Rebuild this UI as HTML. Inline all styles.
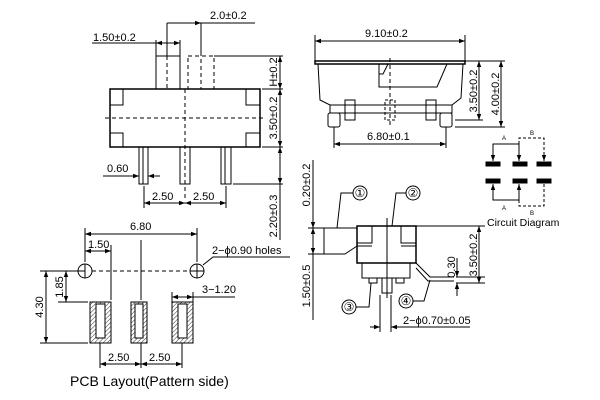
<!DOCTYPE html>
<html><head><meta charset="utf-8"><style>
html,body{margin:0;padding:0;background:#fff;}
svg{display:block;}
text{font-family:"Liberation Sans",sans-serif;fill:#000;}
</style></head><body>
<svg width="600" height="400" viewBox="0 0 600 400" xmlns="http://www.w3.org/2000/svg">
<defs>
<marker id="a" markerWidth="6" markerHeight="6" refX="6" refY="3" orient="auto-start-reverse" markerUnits="userSpaceOnUse"><path d="M0,0.8 L6,3 L0,5.2z" fill="#000"/></marker>
<pattern id="h" width="3" height="3" patternUnits="userSpaceOnUse" patternTransform="rotate(45)"><line x1="0" y1="0" x2="0" y2="3" stroke="#000" stroke-width="0.8"/></pattern>
</defs>
<g stroke="#000" stroke-width="1" fill="none">
<!-- TOP LEFT VIEW -->
<rect x="110" y="89" width="150" height="58" stroke-width="1.5"/>
<path d="M110,89h13v16h-13M110,147h13v-14h-13M260,89h-14v16h14M260,147h-14v-14h14"/>
<rect x="156" y="56" width="24" height="33"/>
<line x1="167" y1="56" x2="167" y2="89" stroke-dasharray="4,3"/>
<rect x="188" y="56" width="26" height="33" stroke-dasharray="4,3"/>
<line x1="201" y1="45" x2="201" y2="89" stroke-dasharray="4,3"/>
<line x1="185" y1="89" x2="185" y2="200" stroke-dasharray="4,3"/>
<line x1="105" y1="118" x2="265" y2="118" stroke-dasharray="4,3"/>
<rect x="139" y="147" width="9" height="37"/><line x1="143" y1="147" x2="143" y2="184"/>
<rect x="180" y="147" width="10" height="37"/>
<rect x="221" y="147" width="10" height="37"/><line x1="225" y1="147" x2="225" y2="184"/>
<line x1="92" y1="43" x2="180" y2="43"/><line x1="156" y1="40" x2="156" y2="56"/><line x1="180" y1="40" x2="180" y2="56"/>
<line x1="156" y1="43" x2="167" y2="43" marker-start="url(#a)"/><line x1="167" y1="43" x2="180" y2="43" marker-end="url(#a)"/>
<line x1="167" y1="23" x2="255" y2="23"/><line x1="167" y1="23" x2="167" y2="56"/><line x1="201" y1="23" x2="201" y2="56"/>
<line x1="180" y1="23" x2="201" y2="23" marker-end="url(#a)"/>
<line x1="214" y1="56" x2="283" y2="56"/><line x1="262" y1="89" x2="283" y2="89"/><line x1="262" y1="147" x2="283" y2="147"/><line x1="233" y1="184" x2="283" y2="184"/>
<line x1="280" y1="56" x2="280" y2="89" marker-start="url(#a)" marker-end="url(#a)"/>
<line x1="280" y1="89" x2="280" y2="147" marker-start="url(#a)" marker-end="url(#a)"/>
<line x1="280" y1="147" x2="280" y2="184" marker-start="url(#a)" marker-end="url(#a)"/>
<line x1="280" y1="184" x2="280" y2="240"/>
<line x1="103" y1="176" x2="139" y2="176" marker-end="url(#a)"/><line x1="160" y1="176" x2="148" y2="176" marker-end="url(#a)"/>
<line x1="144" y1="186" x2="144" y2="208"/><line x1="226" y1="186" x2="226" y2="208"/>
<line x1="144" y1="203" x2="185" y2="203" marker-start="url(#a)" marker-end="url(#a)"/>
<line x1="185" y1="203" x2="226" y2="203" marker-start="url(#a)" marker-end="url(#a)"/>

<!-- TOP RIGHT VIEW -->
<line x1="315" y1="41" x2="465" y2="41" marker-start="url(#a)" marker-end="url(#a)"/>
<line x1="315" y1="35" x2="315" y2="61"/><line x1="465" y1="35" x2="465" y2="61"/>
<rect x="315" y="61" width="150" height="3" stroke-width="1.5"/>
<path d="M318,64 L320,100 L330,105 L452,105 L461,98 L463,64"/>
<path d="M379,64 v23 h58 l10,-23"/>
<path d="M388,64 l-5,10 h-4"/>
<line x1="390" y1="58" x2="390" y2="125" stroke-dasharray="4,3"/>
<rect x="330" y="105" width="122" height="8"/>
<rect x="345" y="100" width="10" height="20"/><rect x="385" y="100" width="10" height="20" stroke-dasharray="3,2"/><rect x="426" y="100" width="10" height="20"/>
<rect x="328" y="113" width="12" height="14" rx="2"/><rect x="440" y="113" width="12" height="14" rx="2"/>
<line x1="334" y1="127" x2="334" y2="148"/><line x1="446" y1="127" x2="446" y2="148"/>
<line x1="334" y1="144" x2="446" y2="144" marker-start="url(#a)" marker-end="url(#a)"/>
<line x1="465" y1="61" x2="505" y2="61"/><line x1="455" y1="120" x2="483" y2="120"/><line x1="455" y1="127" x2="505" y2="127"/>
<line x1="479" y1="61" x2="479" y2="120" marker-start="url(#a)" marker-end="url(#a)"/>
<line x1="501" y1="61" x2="501" y2="127" marker-start="url(#a)" marker-end="url(#a)"/>

<!-- CIRCUIT -->
<g fill="#000">
<rect x="486" y="162" width="14" height="4"/><rect x="513" y="162" width="14" height="4"/><rect x="537" y="162" width="14" height="4"/>
<rect x="486" y="179" width="14" height="4"/><rect x="513" y="179" width="14" height="4"/><rect x="537" y="179" width="14" height="4"/>
</g>
<path d="M493,160 V144 H519 V160"/>
<path d="M519,144 V138 H544 V160" stroke-dasharray="3,2"/>
<line x1="493" y1="152" x2="493" y2="161" marker-end="url(#a)"/><line x1="519" y1="152" x2="519" y2="161" marker-end="url(#a)"/><line x1="544" y1="152" x2="544" y2="161" marker-end="url(#a)"/>
<path d="M493,184 V200 H519 V184"/>
<path d="M519,200 V206 H544 V184" stroke-dasharray="3,2"/>
<line x1="493" y1="193" x2="493" y2="184" marker-end="url(#a)"/><line x1="519" y1="193" x2="519" y2="184" marker-end="url(#a)"/>

<!-- SIDE VIEW -->
<rect x="357" y="226" width="59" height="37" stroke-width="1.5"/>
<path d="M357,243 h15 v-17 M416,243 h-15 v-17"/>
<path d="M357,246 h15 M416,246 h-15"/>
<path d="M357,228 H324 V254 H345 L357,246"/>
<rect x="362" y="263" width="48" height="15"/>
<rect x="369" y="278" width="8" height="5"/><rect x="396" y="278" width="8" height="5"/>
<rect x="382" y="278" width="10" height="15"/>
<line x1="387" y1="218" x2="387" y2="298"/>
<path d="M416,263 L430,277 H454"/><path d="M416,268 L428,281 H454"/>
<line x1="416" y1="226" x2="485" y2="226"/><line x1="456" y1="277" x2="485" y2="277"/><line x1="456" y1="283" x2="485" y2="283"/>
<line x1="479" y1="226" x2="479" y2="283" marker-start="url(#a)" marker-end="url(#a)"/>
<line x1="457" y1="258" x2="457" y2="277" marker-end="url(#a)"/><line x1="457" y1="296" x2="457" y2="283" marker-end="url(#a)"/>
<line x1="313" y1="160" x2="313" y2="320"/>
<line x1="308" y1="228" x2="324" y2="228"/><line x1="308" y1="254" x2="324" y2="254"/>
<line x1="313" y1="215" x2="313" y2="228" marker-end="url(#a)"/><line x1="313" y1="240" x2="313" y2="228" marker-end="url(#a)"/><line x1="313" y1="240" x2="313" y2="254" marker-end="url(#a)"/>
<circle cx="360" cy="193" r="7"/><path d="M353,193 H341 L337,228"/>
<circle cx="413" cy="193" r="7"/><path d="M406,193 H396 L392,226"/>
<circle cx="349" cy="307" r="7"/><path d="M356,307 H369 L371,283"/>
<circle cx="406" cy="301" r="7"/><path d="M413,301 H424 L430,280"/>
<line x1="380" y1="295" x2="380" y2="332"/><line x1="391" y1="295" x2="391" y2="332"/>
<line x1="370" y1="327" x2="380" y2="327" marker-end="url(#a)"/><line x1="470" y1="327" x2="391" y2="327" marker-end="url(#a)"/>

<!-- PCB -->
<line x1="85" y1="228" x2="85" y2="262"/><line x1="197" y1="228" x2="197" y2="262"/>
<line x1="85" y1="234" x2="197" y2="234" marker-start="url(#a)" marker-end="url(#a)"/>
<line x1="85" y1="251" x2="111" y2="251" marker-start="url(#a)" marker-end="url(#a)"/>
<line x1="111" y1="245" x2="111" y2="300"/>
<line x1="141" y1="240" x2="141" y2="300"/>
<circle cx="85" cy="271" r="7"/><circle cx="197" cy="271" r="7"/>
<line x1="75" y1="271" x2="85" y2="271"/><line x1="85" y1="264" x2="85" y2="278"/><line x1="190" y1="271" x2="204" y2="271"/><line x1="197" y1="264" x2="197" y2="278"/>
<line x1="92" y1="271" x2="190" y2="271" stroke-dasharray="4,3"/>
<path d="M203,265 L213,257 H290"/>
<line x1="40" y1="271" x2="78" y2="271"/><line x1="40" y1="343" x2="88" y2="343"/><line x1="58" y1="302" x2="88" y2="302"/>
<line x1="46" y1="271" x2="46" y2="343" marker-start="url(#a)" marker-end="url(#a)"/>
<line x1="66" y1="271" x2="66" y2="302" marker-start="url(#a)" marker-end="url(#a)"/>
<g>
<rect x="90" y="302" width="21" height="41" fill="url(#h)"/><rect x="96" y="304" width="9" height="34" fill="#fff"/>
<rect x="131" y="302" width="16" height="41" fill="url(#h)"/><rect x="135" y="304" width="8" height="34" fill="#fff"/>
<rect x="172" y="302" width="21" height="41" fill="url(#h)"/><rect x="178" y="304" width="9" height="34" fill="#fff"/>
</g>
<line x1="172" y1="297" x2="193" y2="297" marker-start="url(#a)" marker-end="url(#a)"/><line x1="193" y1="297" x2="235" y2="297"/>
<line x1="172" y1="292" x2="172" y2="302"/><line x1="193" y1="292" x2="193" y2="302"/>
<line x1="100" y1="343" x2="100" y2="368"/><line x1="141" y1="343" x2="141" y2="368"/><line x1="182" y1="343" x2="182" y2="368"/>
<line x1="100" y1="364" x2="141" y2="364" marker-start="url(#a)" marker-end="url(#a)"/>
<line x1="141" y1="364" x2="182" y2="364" marker-start="url(#a)" marker-end="url(#a)"/>
</g>

<g font-size="11">
<text x="93" y="41">1.50±0.2</text>
<text x="210" y="19">2.0±0.2</text>
<text x="107" y="172">0.60</text>
<text x="152" y="200">2.50</text>
<text x="193" y="200">2.50</text>
<text transform="translate(277,72) rotate(-90)" text-anchor="middle">H±0.2</text>
<text transform="translate(277,118) rotate(-90)" text-anchor="middle">3.50±0.2</text>
<text transform="translate(277,216) rotate(-90)" text-anchor="middle">2.20±0.3</text>
<text x="365" y="37">9.10±0.2</text>
<text x="367" y="140">6.80±0.1</text>
<text transform="translate(477,91) rotate(-90)" text-anchor="middle">3.50±0.2</text>
<text transform="translate(499,94) rotate(-90)" text-anchor="middle">4.00±0.2</text>
<text x="487" y="226" font-size="10.5">Circuit Diagram</text>
<text transform="translate(310,185) rotate(-90)" text-anchor="middle">0.20±0.2</text>
<text transform="translate(310,286) rotate(-90)" text-anchor="middle">1.50±0.5</text>
<text transform="translate(477,255) rotate(-90)" text-anchor="middle">3.50±0.2</text>
<text transform="translate(455,267) rotate(-90)" text-anchor="middle">0.30</text>
<text x="403" y="324">2−ϕ0.70±0.05</text>
<text x="130" y="230">6.80</text>
<text x="88" y="248">1.50</text>
<text x="212" y="254">2−ϕ0.90 holes</text>
<text x="202" y="293">3−1.20</text>
<text transform="translate(43,307) rotate(-90)" text-anchor="middle">4.30</text>
<text transform="translate(63,287) rotate(-90)" text-anchor="middle">1.85</text>
<text x="108" y="361">2.50</text>
<text x="149" y="361">2.50</text>
</g>
<g font-size="12" text-anchor="middle">
<text x="360" y="197">①</text><text x="413" y="197">②</text><text x="349" y="311">③</text><text x="406" y="305">④</text>
</g>
<g font-size="6">
<text x="502" y="140">A</text><text x="530" y="135">B</text><text x="502" y="210">A</text><text x="530" y="215">B</text>
</g>
<text x="70" y="386" font-size="14">PCB Layout(Pattern side)</text>
</svg>
</body></html>
